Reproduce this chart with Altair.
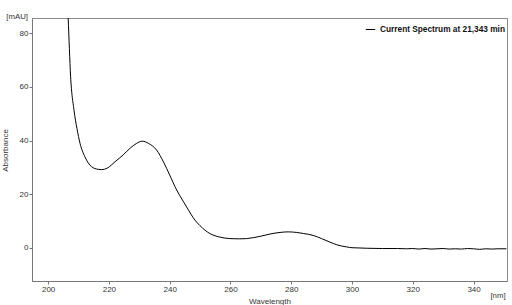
import altair as alt
import pandas as pd

wavelength = [206.0, 206.6, 207.4, 208.5, 209.5, 210.5, 212.1, 214.3, 216.5, 217.6,
              219.5, 222.0, 224.7, 227.0, 229.0, 231.0, 233.0, 235.7, 238.0, 240.0,
              242.3, 244.4, 246.0, 248.3, 250.0, 253.2, 256.0, 259.8, 263.0, 265.3,
              270.0, 273.0, 276.3, 279.0, 281.8, 284.0, 287.2, 290.0, 292.7, 295.0,
              298.2, 300.0, 302.6, 305.0, 310.0, 315.0, 318.0, 320.0, 322.0, 324.0,
              326.0, 328.0, 330.0, 332.0, 334.0, 336.0, 338.0, 340.0, 342.0, 344.0,
              346.0, 348.0, 350.8]
absorbance = [101.0, 85.7, 64.0, 51.5, 44.5, 39.0, 34.0, 30.3, 29.3, 29.2,
              29.8, 32.1, 34.7, 37.2, 38.9, 39.8, 39.0, 36.5, 32.0, 27.2,
              21.6, 17.5, 14.5, 10.4, 8.3, 5.4, 4.2, 3.5, 3.4, 3.5,
              4.4, 5.2, 5.8, 6.0, 5.8, 5.4, 4.7, 3.5, 2.2, 1.2,
              0.4, 0.1, 0.0, -0.1, -0.2, -0.2, -0.3, -0.2, -0.4, -0.2,
              -0.4, -0.3, -0.2, -0.4, -0.3, -0.4, -0.2, -0.3, -0.5, -0.3,
              -0.4, -0.3, -0.3]
series_name = "Current Spectrum at 21,343 min"
x_ticks = [200, 220, 240, 260, 280, 300, 320, 340]
y_ticks = [0, 20, 40, 60, 80]
x_domain = [194.7, 351.0]
y_domain = [-12.3, 85.7]

df = pd.DataFrame({"wl": wavelength, "abs": absorbance, "series": series_name})

FONT = "Liberation Sans"

line = alt.Chart(df).mark_line(color="black", strokeWidth=1, clip=True, interpolate="monotone").encode(
    x=alt.X("wl:Q", scale=alt.Scale(domain=x_domain, nice=False, zero=False),
            axis=alt.Axis(values=x_ticks, title="Wavelength", grid=False, titleY=20,
                          titleBaseline="middle", titleFontWeight="normal")),
    y=alt.Y("abs:Q", scale=alt.Scale(domain=y_domain, nice=False, zero=False),
            axis=alt.Axis(values=y_ticks, title="Absorbance", grid=False, titleX=-27, titleY=132,
                          titleAlign="center", titleBaseline="middle", titleAngle=270,
                          titleFontWeight="normal")),
    color=alt.Color("series:N", scale=alt.Scale(range=["black"]),
                    legend=alt.Legend(title=None, orient="none", legendX=333, legendY=6,
                                      symbolType="stroke", symbolSize=90, symbolStrokeWidth=1,
                                      labelFontWeight="bold", labelFontSize=8.3, labelFont=FONT,
                                      labelColor="#111", labelLimit=300)),
)

mau = alt.Chart(pd.DataFrame({"t": ["[mAU]"]})).mark_text(
    align="right", baseline="middle", fontSize=7.8, font=FONT, color="#333").encode(
    x=alt.value(-4), y=alt.value(-1), text="t:N")
nm = alt.Chart(pd.DataFrame({"t": ["[nm]"]})).mark_text(
    align="center", baseline="middle", fontSize=7.8, font=FONT, color="#333").encode(
    x=alt.value(466), y=alt.value(278), text="t:N")

chart = alt.layer(line, mau, nm).properties(
    width=475, height=263,
    background="white",
    autosize=alt.AutoSizeParams(type="none"),
    padding={"left": 32, "top": 18, "right": 5, "bottom": 24},
).configure_view(stroke="#8a8a8a", strokeWidth=1).configure_axis(
    domainColor="#777", tickColor="#777", tickSize=3, labelFontSize=8, labelFont=FONT,
    labelColor="#333", titleFontSize=8, titleFont=FONT, titleColor="#333", labelPadding=1
)

chart.save("out.html", embed_options={"renderer": "svg", "actions": False})
